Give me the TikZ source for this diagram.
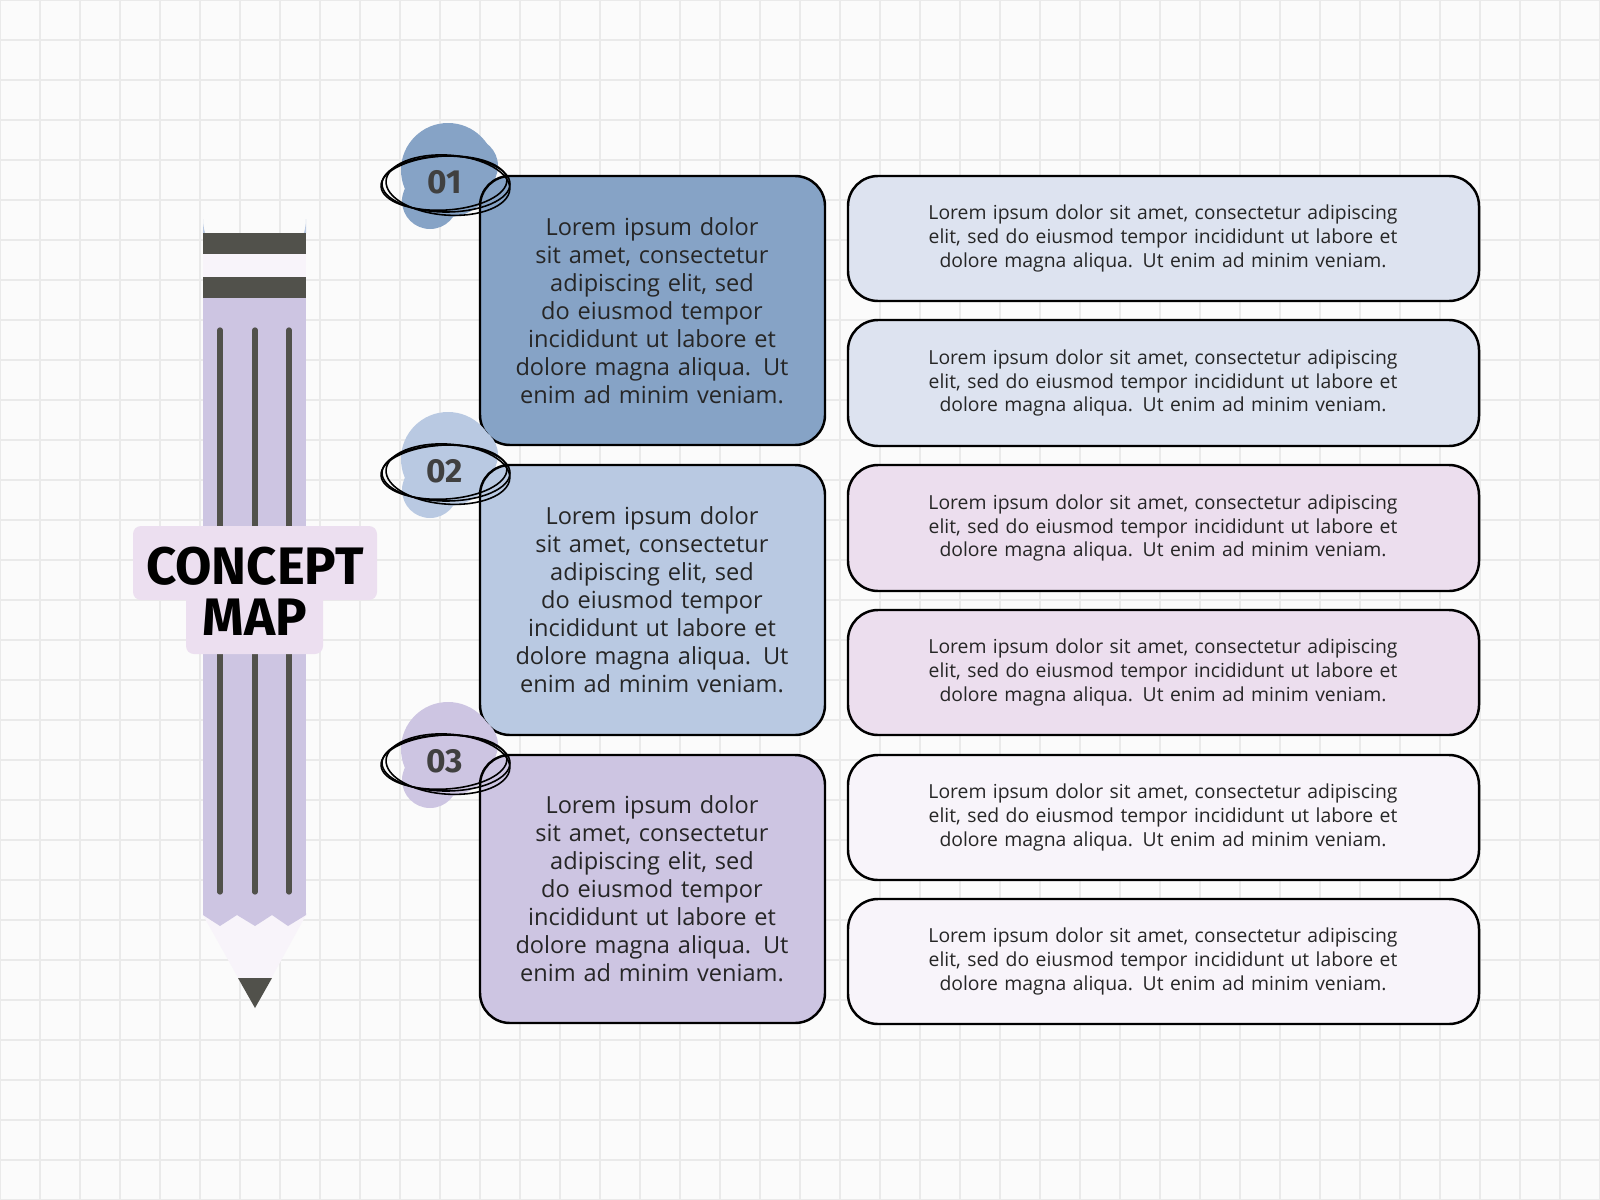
\documentclass[tikz,border=0pt]{standalone}
\usepackage{fontspec}
\setmainfont{Open Sans}
\newfontfamily\hand{Fira Sans}
\begin{document}
\begin{tikzpicture}[x=0.01cm,y=-0.01cm,
  mainbox/.style={draw=black,line width=0.7pt,rounded corners=0.3cm},
  maintext/.style={align=center,text width=2.9cm,font=\fontsize{6.7}{7.95}\selectfont,text=black!85},
  sidetext/.style={align=center,text width=5.3cm,font=\fontsize{5.5}{6.8}\selectfont,text=black!85},
  num/.style={font=\hand\bfseries\fontsize{9.5}{10}\selectfont,text=black!75},
  scrib/.style={draw=black,line width=0.45pt}]
\definecolor{bgc}{HTML}{FBFBFB}
\definecolor{gridc}{HTML}{EAEAEA}
\definecolor{cA}{HTML}{86A3C6}
\definecolor{cB}{HTML}{B9C9E2}
\definecolor{cC}{HTML}{CDC5E2}
\definecolor{rA}{HTML}{DDE3F0}
\definecolor{rB}{HTML}{ECDEEE}
\definecolor{rC}{HTML}{F8F4FA}
\definecolor{dark}{HTML}{51514B}
\definecolor{lab}{HTML}{ECDFF0}
\useasboundingbox (0,0) rectangle (1600,1200);
\fill[bgc] (0,0) rectangle (1600,1200);
\foreach \i in {0,40,...,1600} \draw[gridc,line width=0.6pt] (\i,0) -- (\i,1200);
\foreach \i in {0,40,...,1200} \draw[gridc,line width=0.6pt] (0,\i) -- (1600,\i);
% pencil
\fill[cB] (203,233) -- (203,219) arc[start angle=180,end angle=0,x radius=51.5,y radius=50] -- (306,233) -- cycle;
\fill[dark] (203,233) rectangle (306,254);
\fill[rC] (203,254) rectangle (306,277);
\fill[dark] (203,277) rectangle (306,298);
\fill[cC] (203,298) rectangle (306,915);
\fill[rC] (203,915) -- (220,926) -- (237,915) -- (255,926) -- (272,915) -- (288,926) -- (306,915) -- (255,1008) -- cycle;
\fill[cC] (203,913) -- (306,913) -- (306,915) -- (288,926) -- (272,915) -- (255,926) -- (237,915) -- (220,926) -- (203,915) -- cycle;
\fill[dark] (238,978) -- (272,978) -- (255,1008) -- cycle;
\foreach \x in {220,255,289} \draw[dark,line width=1.5pt,line cap=round] (\x,330) -- (\x,892);
% concept label
\fill[lab,rounded corners=0.08cm] (133,526) rectangle (377,600);
\fill[lab,rounded corners=0.08cm] (186,580) rectangle (323,654);
\node[font=\hand\bfseries\fontsize{15}{15}\selectfont] (t1) at (255,566) {CONCEPT};
\node[font=\hand\bfseries\fontsize{15}{15}\selectfont] (t2) at (255,617) {MAP};
% main boxes
\foreach \c/\t/\b/\n in {cA/176/445/01,cB/465/735/02,cC/755/1023/03}{
  \fill[\c] (448,\t-6) circle (47);
  \fill[\c] (470,\t-10) circle (28);
  \fill[\c] (430,\t+25) circle (28);
  \draw[mainbox,fill=\c] (480,\t) rectangle (825,\b);
  \node[maintext] (m\n) at (652,{(\t+\b)/2}) {Lorem ipsum dolor sit amet, consectetur adipiscing elit, sed do eiusmod tempor incididunt ut labore et dolore magna aliqua. Ut enim ad minim veniam.};
  \draw[scrib] (446,\t+8) ellipse [x radius=64,y radius=28];
  \draw[scrib,rotate around={-4:(446,\t+8)}] (448,\t+9) ellipse [x radius=62,y radius=30];
  \draw[scrib,rotate around={3:(446,\t+8)}] (444,\t+7) ellipse [x radius=63,y radius=27];
  \node[num] (n\n) at (445,\t+6) {\n};
}
% side boxes
\foreach \c/\t/\b/\k in {rA/176/301/1,rA/320/446/2,rB/465/591/3,rB/610/735/4,rC/755/880/5,rC/899/1024/6}{
  \draw[mainbox,fill=\c] (848,\t) rectangle (1479,\b);
  \node[sidetext] (s\k) at (1163,{(\t+\b)/2}) {Lorem ipsum dolor sit amet, consectetur adipiscing elit, sed do eiusmod tempor incididunt ut labore et dolore magna aliqua. Ut enim ad minim veniam.};
}
\end{tikzpicture}
\end{document}
